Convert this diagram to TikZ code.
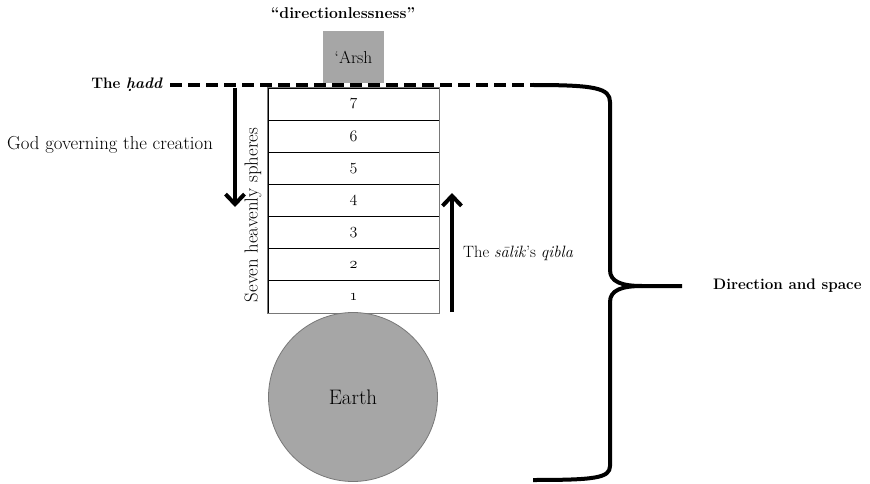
\documentclass[tikz,border=0pt]{standalone}
\usepackage{fix-cm}
\usetikzlibrary{arrows.meta}
\definecolor{fillgray}{RGB}{166,166,166}
\definecolor{edgegray}{RGB}{120,120,120}
\newcommand\osnum[1]{{\usefont{OML}{cmm}{m}{it}#1}}
\tikzset{
  lbl/.style={font=\fontsize{18.8}{22}\selectfont, inner sep=0pt},
  blbl/.style={font=\fontsize{15.2}{18}\selectfont\bfseries, inner sep=0pt},
  sphere/.style={draw=black, line width=0.8pt, minimum width=171pt, minimum height=32.14pt, inner sep=0pt, font=\fontsize{16}{19}\selectfont},
  bigarrow/.style={line width=4pt, -{Straight Barb[length=10pt,width=19pt]}},
  thickline/.style={line width=4pt, line join=round},
}
\begin{document}
\begin{tikzpicture}[x=1pt,y=-1pt]
\useasboundingbox (0,0) rectangle (870,484);
% top labels
\node[blbl, font=\fontsize{15.7}{18}\selectfont\bfseries] (dir) at (343,13) {``directionlessness''};
\node[fill=fillgray, minimum width=61pt, minimum height=52pt, inner sep=0pt, font=\fontsize{17.4}{20}\selectfont] (arsh) at (353.5,57) {`Arsh};
\node[blbl, anchor=east] (hadd) at (163,85) {The \textit{\d{h}add}};
\coordinate (dashA) at (170,85);
\coordinate (dashB) at (533,85);
\draw[line width=4pt, dash pattern=on 12pt off 6pt] (dashA) -- (dashB);
% spheres
\foreach \k in {1,...,7}{
  \node[sphere] (s\k) at (353.5,{313-32.14*(\k-0.5)}) {\osnum{\k}};
}
\draw[draw=edgegray, line width=1.2pt] (s7.north west) rectangle (s1.south east);
\node[lbl, rotate=90] (seven) at (253,215) {Seven heavenly spheres};
% left arrow and label
\node[lbl, anchor=west] (god) at (7,145) {God governing the creation};
\coordinate (gTop) at (235,88);
\coordinate (gBot) at (235,207);
\draw[bigarrow] (gTop) -- (gBot);
% right arrow and label
\coordinate (qBot) at (452,312);
\coordinate (qTop) at (452,193);
\draw[bigarrow] (qBot) -- (qTop);
\node[lbl, anchor=west, font=\fontsize{16.4}{19}\selectfont] (qibla) at (463,253) {The \textit{s\={a}lik}'s \textit{qibla}};
% earth
\node[circle, fill=fillgray, draw=edgegray, line width=0.8pt, minimum size=169pt, inner sep=0pt, font=\fontsize{21}{24}\selectfont] (earth) at (353,397) {Earth};
% brace
\coordinate (tip) at (682,286);
\draw[thickline] (dashB) .. controls (595,85) and (610,88) .. (610,102)
  -- (610,270) .. controls (610,282) and (622,286) .. (642,286) -- (tip);
\draw[thickline] (642,286) .. controls (622,286) and (610,290) .. (610,302)
  -- (610,466) .. controls (610,478) and (595,480) .. (533,480);
\node[blbl, anchor=west] (space) at (713,286) {Direction and space};
\end{tikzpicture}
\end{document}
